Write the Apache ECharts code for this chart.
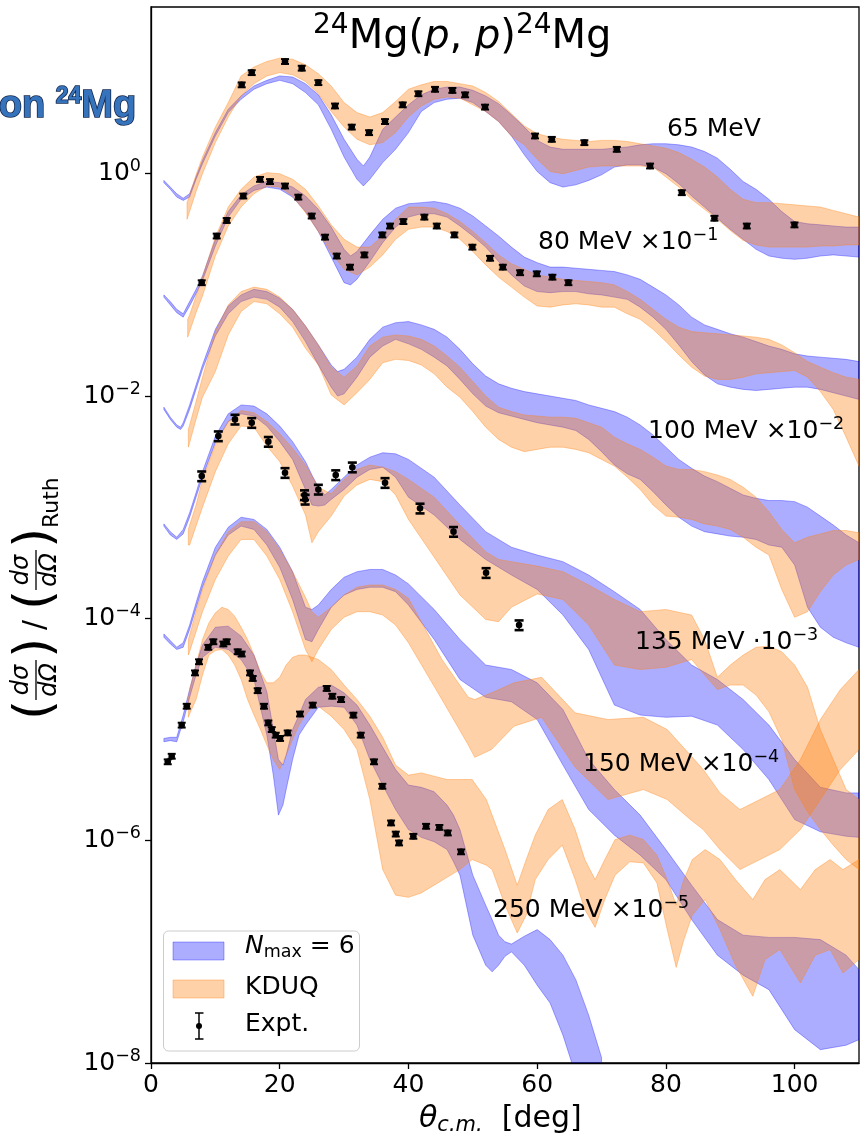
<!DOCTYPE html>
<html>
<head>
<meta charset="utf-8">
<script src="https://cdn.jsdelivr.net/npm/echarts@6/dist/echarts.min.js"></script>
<style>
  html, body { margin: 0; padding: 0; background: #fff; }
  #chart { width: 860px; height: 1142px; }
</style>
</head>
<body>
<div id="chart"></div>
<script>
// Elastic 24Mg(p,p) angular distributions, ratio to Rutherford.
// Every band row is [theta_cm (deg), log10 lower, log10 upper];
// energies above 65 MeV are already multiplied by their offset factor.

const xTicks = [0, 20, 40, 60, 80, 100];
const yTicks = [-8, -6, -4, -2, 0];

const nmax65 = [[2,-0.08,-0.06],[3,-0.14,-0.12],[4,-0.21,-0.18],[5,-0.24,-0.22],[6,-0.21,-0.18],[7,-0.05,-0.03],[8,0.09,0.12],[10,0.34,0.37],[12,0.55,0.58],[14,0.67,0.70],[16,0.76,0.79],[18,0.81,0.84],[20,0.84,0.88],[22,0.81,0.87],[24,0.73,0.81],[26,0.62,0.71],[28,0.40,0.53],[30,0.15,0.31],[32,-0.05,0.13],[33,-0.11,0.07],[34,-0.05,0.15],[36,0.10,0.40],[38,0.22,0.51],[40,0.37,0.62],[42,0.56,0.71],[44,0.64,0.76],[46,0.67,0.78],[48,0.68,0.78],[50,0.64,0.75],[52,0.56,0.70],[54,0.47,0.63],[56,0.34,0.53],[58,0.17,0.42],[60,0.02,0.30],[62,-0.08,0.24],[64,-0.12,0.22],[66,-0.10,0.22],[68,-0.06,0.22],[70,-0.01,0.22],[72,0.06,0.23],[74,0.08,0.24],[76,0.08,0.26],[78,0.06,0.27],[80,0.00,0.27],[82,-0.09,0.26],[84,-0.20,0.24],[86,-0.30,0.20],[88,-0.40,0.14],[90,-0.50,0.04],[92,-0.59,-0.07],[94,-0.68,-0.14],[96,-0.74,-0.23],[98,-0.76,-0.34],[100,-0.77,-0.43],[102,-0.76,-0.45],[104,-0.74,-0.46],[106,-0.73,-0.47],[108,-0.74,-0.48],[110,-0.75,-0.48]];
const kduq65 = [[5.6,-0.41,-0.26],[6,-0.34,-0.19],[7,-0.16,-0.01],[8,0.00,0.15],[10,0.28,0.42],[12,0.51,0.64],[14,0.70,0.88],[16,0.81,0.96],[18,0.88,1.01],[20,0.91,1.04],[22,0.89,1.03],[24,0.83,0.98],[26,0.72,0.90],[28,0.56,0.79],[30,0.42,0.64],[32,0.31,0.55],[34,0.26,0.51],[36,0.28,0.55],[38,0.37,0.65],[40,0.51,0.76],[42,0.61,0.80],[44,0.67,0.83],[46,0.69,0.83],[48,0.68,0.81],[50,0.62,0.79],[52,0.56,0.73],[54,0.47,0.65],[56,0.34,0.54],[58,0.26,0.43],[60,0.13,0.36],[62,0.02,0.33],[64,0.00,0.31],[66,0.03,0.30],[68,0.06,0.29],[70,0.07,0.30],[72,0.07,0.30],[74,0.07,0.29],[76,0.07,0.27],[78,0.06,0.25],[80,-0.03,0.23],[82,-0.12,0.19],[84,-0.23,0.13],[86,-0.32,0.06],[88,-0.41,-0.03],[90,-0.51,-0.14],[92,-0.60,-0.23],[94,-0.64,-0.26],[96,-0.66,-0.26],[98,-0.66,-0.27],[100,-0.66,-0.28],[102,-0.66,-0.29],[104,-0.65,-0.30],[106,-0.65,-0.33],[108,-0.64,-0.36],[110,-0.64,-0.39]];

const nmax80 = [[2,-1.11,-1.09],[3,-1.18,-1.15],[4,-1.25,-1.22],[5,-1.29,-1.26],[6,-1.19,-1.15],[7,-1.08,-1.04],[8,-0.96,-0.92],[10,-0.65,-0.59],[12,-0.39,-0.34],[14,-0.23,-0.19],[16,-0.15,-0.11],[18,-0.12,-0.07],[20,-0.14,-0.08],[22,-0.21,-0.12],[24,-0.34,-0.20],[26,-0.52,-0.32],[28,-0.75,-0.48],[30,-0.98,-0.68],[31,-1.00,-0.74],[32,-0.95,-0.70],[34,-0.79,-0.55],[36,-0.62,-0.41],[38,-0.48,-0.31],[40,-0.39,-0.27],[42,-0.36,-0.26],[44,-0.36,-0.25],[46,-0.39,-0.27],[48,-0.47,-0.31],[50,-0.56,-0.38],[52,-0.66,-0.47],[54,-0.79,-0.56],[56,-0.91,-0.66],[58,-1.01,-0.75],[60,-1.06,-0.80],[62,-1.07,-0.84],[64,-1.06,-0.84],[66,-1.06,-0.85],[68,-1.08,-0.86],[70,-1.09,-0.87],[72,-1.11,-0.88],[74,-1.13,-0.91],[76,-1.20,-0.95],[78,-1.29,-1.02],[80,-1.40,-1.09],[82,-1.54,-1.18],[84,-1.69,-1.29],[86,-1.81,-1.36],[88,-1.89,-1.40],[90,-1.92,-1.44],[92,-1.94,-1.47],[94,-1.95,-1.51],[96,-1.94,-1.55],[98,-1.93,-1.58],[100,-1.92,-1.62],[102,-1.92,-1.64],[104,-1.94,-1.65],[106,-1.97,-1.66],[108,-2.00,-1.67],[110,-2.03,-1.69]];
const kduq80 = [[5.7,-1.47,-1.31],[6,-1.42,-1.27],[7,-1.25,-1.10],[8,-1.10,-0.93],[10,-0.74,-0.57],[12,-0.47,-0.30],[14,-0.30,-0.14],[16,-0.18,-0.03],[18,-0.11,0.01],[20,-0.12,0.00],[22,-0.20,-0.05],[24,-0.35,-0.14],[26,-0.52,-0.29],[28,-0.71,-0.46],[30,-0.86,-0.59],[32,-0.91,-0.66],[34,-0.84,-0.66],[36,-0.73,-0.56],[38,-0.59,-0.41],[40,-0.50,-0.30],[42,-0.48,-0.30],[44,-0.48,-0.31],[46,-0.52,-0.36],[48,-0.59,-0.43],[50,-0.70,-0.52],[52,-0.82,-0.62],[54,-0.93,-0.73],[56,-1.02,-0.81],[58,-1.11,-0.86],[60,-1.19,-0.91],[62,-1.20,-0.93],[64,-1.18,-0.95],[66,-1.17,-0.96],[68,-1.18,-0.97],[70,-1.20,-0.98],[72,-1.20,-1.00],[74,-1.26,-1.06],[76,-1.31,-1.13],[78,-1.40,-1.22],[80,-1.51,-1.31],[82,-1.63,-1.38],[84,-1.74,-1.42],[86,-1.82,-1.43],[88,-1.85,-1.44],[90,-1.85,-1.45],[92,-1.83,-1.46],[94,-1.80,-1.47],[96,-1.79,-1.49],[98,-1.78,-1.54],[100,-1.77,-1.61],[102,-1.83,-1.69],[104,-1.96,-1.74],[106,-2.12,-1.79],[108,-2.37,-1.83],[110,-2.63,-1.85]];

const nmax100 = [[2,-2.12,-2.10],[3,-2.21,-2.19],[4,-2.28,-2.26],[4.6,-2.30,-2.28],[5,-2.27,-2.24],[6,-2.12,-2.08],[7,-1.94,-1.90],[8,-1.76,-1.72],[10,-1.46,-1.40],[12,-1.26,-1.19],[14,-1.15,-1.09],[16,-1.11,-1.04],[18,-1.13,-1.06],[20,-1.20,-1.12],[22,-1.33,-1.22],[24,-1.51,-1.37],[26,-1.72,-1.54],[28,-1.92,-1.72],[29,-2.00,-1.78],[30,-1.98,-1.76],[32,-1.83,-1.65],[34,-1.65,-1.49],[36,-1.55,-1.38],[38,-1.49,-1.34],[40,-1.53,-1.33],[42,-1.58,-1.36],[44,-1.65,-1.40],[46,-1.73,-1.47],[48,-1.85,-1.58],[50,-1.98,-1.71],[52,-2.09,-1.82],[54,-2.15,-1.89],[56,-2.18,-1.93],[58,-2.21,-1.96],[60,-2.24,-1.98],[62,-2.26,-2.00],[64,-2.28,-2.02],[66,-2.31,-2.04],[68,-2.39,-2.08],[70,-2.50,-2.11],[72,-2.62,-2.14],[74,-2.70,-2.19],[76,-2.75,-2.26],[78,-2.86,-2.35],[80,-2.98,-2.46],[82,-3.09,-2.57],[84,-3.17,-2.65],[86,-3.22,-2.72],[88,-3.24,-2.77],[90,-3.26,-2.83],[92,-3.27,-2.89],[94,-3.29,-2.92],[96,-3.34,-2.94],[98,-3.36,-2.94],[100,-3.52,-2.95],[102,-3.90,-3.00],[104,-4.08,-3.08],[106,-4.17,-3.16],[108,-4.22,-3.25],[110,-4.26,-3.32]];
const kduq100 = [[5.8,-2.46,-2.30],[6,-2.42,-2.26],[7,-2.21,-2.05],[8,-2.01,-1.83],[10,-1.78,-1.42],[12,-1.45,-1.18],[14,-1.24,-1.06],[16,-1.15,-1.02],[18,-1.17,-1.04],[20,-1.26,-1.11],[22,-1.38,-1.22],[24,-1.57,-1.37],[26,-1.72,-1.54],[28,-1.99,-1.74],[30,-2.08,-1.83],[32,-1.97,-1.73],[34,-1.85,-1.55],[36,-1.70,-1.47],[38,-1.67,-1.45],[40,-1.68,-1.46],[42,-1.72,-1.49],[44,-1.80,-1.55],[46,-1.92,-1.64],[48,-2.01,-1.74],[50,-2.14,-1.87],[52,-2.28,-2.00],[54,-2.39,-2.10],[56,-2.46,-2.14],[58,-2.50,-2.17],[60,-2.48,-2.18],[62,-2.46,-2.19],[64,-2.46,-2.19],[66,-2.48,-2.20],[68,-2.51,-2.24],[70,-2.57,-2.28],[72,-2.63,-2.37],[74,-2.73,-2.43],[76,-2.84,-2.48],[78,-2.98,-2.55],[80,-3.08,-2.63],[82,-3.09,-2.66],[84,-3.11,-2.66],[86,-3.15,-2.68],[88,-3.17,-2.71],[90,-3.20,-2.75],[92,-3.27,-2.82],[94,-3.36,-2.91],[96,-3.43,-3.04],[98,-3.74,-3.20],[100,-3.99,-3.32],[102,-3.94,-3.27],[104,-3.76,-3.24],[106,-3.61,-3.21],[108,-3.52,-3.21],[110,-3.47,-3.23]];

const nmax135 = [[2,-3.17,-3.15],[3,-3.25,-3.22],[4,-3.29,-3.27],[5,-3.24,-3.20],[6,-3.09,-3.05],[7,-2.91,-2.87],[8,-2.73,-2.68],[10,-2.42,-2.36],[12,-2.23,-2.16],[14,-2.16,-2.08],[16,-2.18,-2.09],[18,-2.27,-2.16],[20,-2.41,-2.27],[22,-2.57,-2.41],[24,-2.84,-2.59],[25,-2.98,-2.71],[26,-2.99,-2.82],[27,-2.98,-2.89],[28,-2.93,-2.84],[30,-2.84,-2.73],[32,-2.73,-2.62],[34,-2.66,-2.55],[36,-2.64,-2.51],[38,-2.73,-2.52],[40,-2.91,-2.57],[44,-3.07,-2.73],[48,-3.29,-2.98],[52,-3.47,-3.22],[56,-3.61,-3.36],[60,-3.74,-3.43],[64,-3.97,-3.49],[68,-4.28,-3.61],[72,-4.78,-3.76],[76,-4.87,-3.92],[80,-4.89,-4.19],[84,-4.88,-4.42],[88,-4.96,-4.55],[92,-5.18,-4.73],[96,-5.45,-4.96],[100,-5.81,-5.27],[104,-5.92,-5.52],[108,-5.96,-5.57],[110,-5.97,-5.57]];
const kduq135 = [[5.8,-3.34,-3.20],[6,-3.34,-3.16],[7,-3.17,-2.98],[8,-3.00,-2.75],[10,-2.68,-2.44],[12,-2.43,-2.23],[14,-2.27,-2.13],[16,-2.28,-2.15],[18,-2.45,-2.23],[20,-2.59,-2.34],[22,-2.81,-2.47],[24,-3.07,-2.62],[25,-3.32,-2.72],[26,-3.22,-2.82],[28,-3.08,-2.88],[30,-2.90,-2.75],[32,-2.80,-2.66],[34,-2.75,-2.62],[36,-2.77,-2.64],[38,-2.89,-2.68],[40,-3.11,-2.75],[44,-3.45,-2.91],[48,-3.79,-3.16],[52,-4.01,-3.40],[54,-4.03,-3.47],[56,-3.90,-3.49],[60,-3.78,-3.53],[64,-3.83,-3.58],[68,-4.06,-3.70],[72,-4.42,-3.83],[76,-4.46,-3.94],[80,-4.44,-3.92],[84,-4.37,-3.97],[86,-4.51,-4.19],[88,-4.64,-4.53],[90,-4.60,-4.42],[92,-4.60,-4.33],[94,-4.69,-4.26],[96,-4.84,-4.25],[98,-5.09,-4.30],[100,-5.54,-4.42],[102,-5.74,-4.62],[104,-5.90,-5.00],[106,-6.04,-5.27],[108,-6.17,-5.54],[110,-6.26,-5.63]];

const nmax150 = [[2,-4.17,-4.14],[3,-4.23,-4.20],[4,-4.28,-4.26],[5,-4.26,-4.22],[6,-4.10,-4.06],[7,-3.91,-3.86],[8,-3.72,-3.67],[10,-3.43,-3.36],[12,-3.25,-3.18],[14,-3.17,-3.09],[16,-3.20,-3.11],[18,-3.34,-3.20],[20,-3.54,-3.36],[22,-3.83,-3.58],[24,-4.19,-3.90],[25,-4.21,-3.92],[26,-4.10,-3.88],[28,-3.90,-3.74],[30,-3.79,-3.63],[32,-3.74,-3.58],[34,-3.72,-3.56],[36,-3.72,-3.56],[38,-3.76,-3.61],[40,-3.88,-3.69],[44,-4.19,-3.92],[48,-4.55,-4.19],[52,-4.71,-4.42],[56,-4.75,-4.46],[60,-4.91,-4.58],[64,-5.32,-4.82],[68,-5.72,-5.27],[72,-5.95,-5.54],[76,-6.13,-5.77],[80,-6.35,-6.08],[84,-6.71,-6.40],[88,-7.03,-6.71],[92,-7.21,-6.85],[96,-7.34,-6.87],[100,-7.70,-6.87],[104,-7.88,-6.89],[108,-7.84,-7.03],[110,-7.79,-7.16]];
const kduq150 = [[5.8,-4.33,-4.19],[6,-4.30,-4.15],[7,-4.12,-3.94],[8,-3.94,-3.74],[10,-3.65,-3.43],[12,-3.44,-3.22],[14,-3.29,-3.13],[16,-3.29,-3.13],[18,-3.44,-3.22],[20,-3.65,-3.38],[22,-3.94,-3.58],[24,-4.28,-3.81],[25,-4.39,-3.94],[26,-4.28,-3.99],[28,-4.10,-3.90],[30,-3.99,-3.79],[32,-3.94,-3.72],[34,-3.94,-3.70],[36,-3.97,-3.70],[38,-4.06,-3.74],[40,-4.22,-3.82],[45.2,-4.73,-4.37],[49.3,-5.14,-4.71],[50.3,-5.25,-4.73],[52.9,-5.18,-4.67],[56.4,-4.97,-4.58],[60.7,-4.89,-4.53],[65.9,-5.34,-4.85],[71,-5.63,-4.91],[76.5,-5.54,-4.89],[80.2,-5.63,-5.00],[83.8,-5.81,-5.23],[85.8,-5.90,-5.36],[88.4,-6.08,-5.57],[91.5,-6.26,-5.72],[94.6,-6.17,-5.63],[97.7,-6.08,-5.54],[100.9,-5.90,-5.27],[104,-5.63,-4.91],[107.1,-5.36,-4.64],[110,-5.18,-4.46]];

const nmax250 = [[2,-5.11,-5.08],[3,-5.10,-5.07],[4,-5.11,-5.07],[5,-4.93,-4.87],[6,-4.71,-4.64],[7,-4.51,-4.42],[8,-4.35,-4.24],[10,-4.26,-4.08],[12,-4.28,-4.07],[14,-4.37,-4.16],[16,-4.55,-4.33],[18,-5.05,-4.66],[19,-5.41,-5.00],[19.8,-5.77,-5.27],[20.5,-5.68,-5.32],[21,-5.54,-5.23],[22,-5.27,-5.00],[23,-5.05,-4.87],[24,-4.96,-4.73],[26,-4.80,-4.62],[28,-4.79,-4.60],[30,-4.80,-4.67],[32,-4.96,-4.78],[34,-5.27,-4.96],[36,-5.50,-5.16],[38,-5.72,-5.36],[40,-5.90,-5.50],[42,-5.97,-5.52],[44,-6.01,-5.56],[46,-6.08,-5.68],[47,-6.19,-5.77],[48,-6.31,-5.90],[50,-6.85,-6.31],[52,-7.12,-6.58],[53,-7.18,-6.71],[54,-7.12,-6.85],[55,-7.04,-6.91],[56,-7.00,-6.93],[58,-7.12,-6.86],[60,-7.30,-6.80],[62,-7.46,-6.89],[64,-7.75,-7.03],[66,-8.11,-7.25],[68,-8.42,-7.57],[70,-8.78,-7.95]];
const kduq250 = [[5.8,-4.89,-4.73],[6,-4.86,-4.64],[7,-4.73,-4.42],[8,-4.51,-4.19],[9,-4.33,-4.04],[10,-4.29,-3.95],[11,-4.28,-3.90],[12,-4.33,-3.92],[13,-4.42,-3.98],[14,-4.55,-4.08],[15,-4.73,-4.19],[16,-4.87,-4.33],[17,-5.00,-4.48],[18,-5.14,-4.58],[19,-5.27,-4.58],[20,-5.36,-4.53],[21,-5.23,-4.42],[22,-5.09,-4.35],[23,-4.96,-4.33],[24,-4.87,-4.33],[25,-4.80,-4.35],[26,-4.79,-4.37],[28,-4.88,-4.46],[30,-5.00,-4.60],[32,-5.18,-4.73],[34,-5.63,-4.88],[36,-6.26,-5.07],[38,-6.49,-5.32],[40,-6.51,-5.41],[42,-6.47,-5.39],[44,-6.40,-5.42],[46,-6.33,-5.45],[48,-6.26,-5.45],[49.9,-6.17,-5.45],[52.1,-6.22,-5.63],[53,-6.26,-5.77],[55,-6.58,-6.08],[56.9,-6.83,-6.40],[58.3,-6.67,-6.17],[59.7,-6.35,-5.95],[61.7,-6.17,-5.72],[63.9,-6.04,-5.63],[65.9,-6.35,-5.90],[67.4,-6.62,-6.17],[69,-6.78,-6.35],[70.5,-6.53,-6.17],[72.1,-6.31,-5.99],[74.4,-6.19,-5.95],[76.5,-6.20,-5.99],[78.6,-6.38,-6.13],[80.2,-6.80,-6.35],[81.6,-7.14,-6.58],[82.8,-6.89,-6.35],[84.1,-6.67,-6.17],[86.1,-6.53,-6.08],[88.4,-6.80,-6.17],[90.8,-7.12,-6.35],[93.5,-7.40,-6.53],[95.4,-7.07,-6.35],[97.7,-6.98,-6.26],[100.9,-7.28,-6.44],[103.2,-7.03,-6.26],[105.5,-6.98,-6.17],[107.5,-7.19,-6.26],[110,-7.07,-6.17]];

// measured points: [theta_cm, log10 ratio]; relative uncertainties alongside
const expt65 = [[14.09,0.80],[15.65,0.91],[20.82,1.01],[23.42,0.95],[26.0,0.82],[28.59,0.61],[31.19,0.42],[33.88,0.37],[36.36,0.47],[39.11,0.62],[41.54,0.72],[44.13,0.76],[46.82,0.75],[48.8,0.71],[51.9,0.60],[59.67,0.34],[62.27,0.31],[67.33,0.28],[72.37,0.22],[77.54,0.07],[82.47,-0.17],[87.54,-0.40],[92.57,-0.47],[99.97,-0.46]];
const err65 = [0.05,0.05,0.05,0.05,0.05,0.05,0.05,0.05,0.05,0.05,0.05,0.05,0.05,0.05,0.05,0.05,0.05,0.05,0.05,0.05,0.05,0.05,0.05,0.05];
const expt80 = [[7.88,-0.98],[10.21,-0.56],[11.76,-0.42],[14.34,-0.20],[16.94,-0.05],[18.49,-0.07],[20.82,-0.11],[22.89,-0.21],[24.97,-0.38],[27.04,-0.57],[28.86,-0.74],[30.92,-0.84],[33.15,-0.73],[35.94,-0.55],[37.14,-0.47],[39.21,-0.43],[42.47,-0.39],[44.4,-0.47],[47.13,-0.55],[49.93,-0.66],[52.68,-0.76],[54.66,-0.84],[57.34,-0.89],[59.94,-0.90],[62.36,-0.93],[64.85,-0.98]];
const err80 = [0.05,0.05,0.05,0.05,0.05,0.05,0.05,0.05,0.05,0.05,0.05,0.05,0.05,0.05,0.05,0.05,0.05,0.05,0.05,0.05,0.05,0.05,0.05,0.05,0.05,0.05];
const expt135 = [[7.88,-2.72],[10.46,-2.36],[13.05,-2.21],[15.65,-2.24],[18.23,-2.41],[20.82,-2.69],[23.85,-2.89],[23.95,-2.93],[26.0,-2.84],[28.7,-2.71],[31.28,-2.64],[36.36,-2.78],[41.8,-3.01],[47.0,-3.22],[52.06,-3.59],[57.19,-4.06]];
const err135 = [0.10,0.10,0.10,0.10,0.10,0.10,0.10,0.10,0.10,0.10,0.10,0.10,0.10,0.10,0.10,0.10];
const expt250 = [[2.60,-5.29],[3.22,-5.24],[4.77,-4.96],[5.55,-4.79],[6.84,-4.49],[7.46,-4.39],[8.90,-4.26],[9.68,-4.21],[11.24,-4.23],[11.76,-4.21],[13.47,-4.30],[14.09,-4.32],[15.38,-4.49],[15.80,-4.54],[16.58,-4.65],[17.56,-4.79],[18.23,-4.94],[18.76,-5.00],[19.38,-5.05],[20.05,-5.08],[21.24,-5.03],[23.15,-4.86],[25.13,-4.78],[27.30,-4.63],[28.17,-4.70],[29.53,-4.73],[31.44,-4.87],[32.59,-5.05],[34.65,-5.29],[35.94,-5.51],[37.30,-5.84],[38.03,-5.94],[38.54,-6.02],[40.76,-5.96],[42.74,-5.87],[44.80,-5.88],[46.11,-5.93],[48.17,-6.10]];
const err250 = [0.05,0.05,0.05,0.05,0.05,0.05,0.05,0.05,0.05,0.05,0.05,0.05,0.05,0.05,0.05,0.05,0.05,0.05,0.05,0.05,0.05,0.05,0.05,0.05,0.05,0.05,0.05,0.05,0.05,0.05,0.05,0.05,0.05,0.05,0.05,0.05,0.05,0.05];

const FONT = 'DejaVu Sans';
const BLUE = 'rgba(0,0,255,0.32)';
const ORANGE = 'rgba(255,127,14,0.36)';

function band(rows, fill) {
  return {
    type: 'custom',
    coordinateSystem: 'cartesian2d',
    clip: true,
    silent: true,
    encode: { x: 0, y: [1, 2] },
    data: rows,
    renderItem(params, api) {
      if (params.dataIndex !== 0) return null;
      const top = rows.map(r => api.coord([r[0], r[2]]));
      const bottom = rows.map(r => api.coord([r[0], r[1]])).reverse();
      return {
        type: 'polygon',
        shape: { points: top.concat(bottom) },
        style: { fill: fill, stroke: fill, lineWidth: 1 }
      };
    }
  };
}

function expt(points, errs, capHalf, capWidth) {
  return {
    type: 'custom',
    coordinateSystem: 'cartesian2d',
    clip: true,
    silent: true,
    z: 10,
    encode: { x: 0, y: [1, 2, 3] },
    data: points.map((p, i) => [p[0], p[1], p[1] + Math.log10(1 + errs[i]), p[1] + Math.log10(1 - errs[i])]),
    renderItem(params, api) {
      const c = api.coord([api.value(0), api.value(1)]);
      const hi = api.coord([api.value(0), api.value(2)]);
      const lo = api.coord([api.value(0), api.value(3)]);
      const ln = { stroke: '#000', lineWidth: capWidth };
      return {
        type: 'group',
        children: [
          { type: 'line', shape: { x1: c[0], y1: hi[1], x2: c[0], y2: lo[1] }, style: { stroke: '#000', lineWidth: 1.5 } },
          { type: 'line', shape: { x1: c[0] - capHalf, y1: hi[1], x2: c[0] + capHalf, y2: hi[1] }, style: ln },
          { type: 'line', shape: { x1: c[0] - capHalf, y1: lo[1], x2: c[0] + capHalf, y2: lo[1] }, style: ln },
          { type: 'circle', shape: { cx: c[0], cy: c[1], r: 3.3 }, style: { fill: '#000' } }
        ]
      };
    }
  };
}

const series = [
  band(nmax65, BLUE), band(kduq65, ORANGE),
  band(nmax80, BLUE), band(kduq80, ORANGE),
  band(nmax100, BLUE), band(kduq100, ORANGE),
  band(nmax135, BLUE), band(kduq135, ORANGE),
  band(nmax150, BLUE), band(kduq150, ORANGE),
  band(nmax250, BLUE), band(kduq250, ORANGE),
  expt(expt65, err65, 4, 2), expt(expt80, err80, 4, 2),
  expt(expt135, err135, 4.5, 2.6), expt(expt250, err250, 4, 2)
];

const supRich = {
  b: { fontFamily: FONT, fontSize: 25, color: '#000', lineHeight: 32 },
  s: { fontFamily: FONT, fontSize: 17.5, color: '#000', lineHeight: 16, verticalAlign: 'top' }
};

function note(x, y, rich) {
  return { type: 'text', left: x, top: y, z: 50,
    style: { text: rich, rich: supRich, fill: '#000', font: '25px "' + FONT + '"' } };
}

// blue heading lettering with a dark rim and drop shadow
const headStyle = { fontFamily: 'Liberation Sans', fontWeight: 'bold', fill: '#3673bd',
  stroke: '#13264a', lineWidth: 1.6, textShadowColor: '#13264a', textShadowOffsetX: 2, textShadowOffsetY: 2, textShadowBlur: 0 };

const chart = echarts.init(document.getElementById('chart'));
chart.setOption({
  animation: false,
  backgroundColor: '#fff',
  grid: { left: 151, right: 1, top: 7, bottom: 79, show: true, borderColor: '#000', borderWidth: 1.3, backgroundColor: 'transparent' },
  xAxis: {
    type: 'value', min: 0, max: 110, interval: 20,
    axisLine: { show: true, onZero: false, lineStyle: { color: '#000', width: 1.3 } },
    axisTick: { show: true, length: 6, lineStyle: { color: '#000', width: 1.3 }, customValues: xTicks },
    axisLabel: { color: '#000', fontSize: 25, fontFamily: FONT, margin: 10, customValues: xTicks },
    splitLine: { show: false }
  },
  yAxis: {
    type: 'value', min: -8, max: 1.5, interval: 2,
    axisLine: { show: true, onZero: false, lineStyle: { color: '#000', width: 1.3 } },
    axisTick: { show: true, length: 6, lineStyle: { color: '#000', width: 1.3 }, customValues: yTicks },
    axisLabel: {
      customValues: yTicks, margin: 10,
      formatter: v => '{b|10}{s|' + (v < 0 ? '\u2212' + Math.abs(v) : String(v)) + '}',
      rich: supRich
    },
    splitLine: { show: false }
  },
  series: series,
  graphic: [
    // title
    { type: 'text', left: 313, top: 12, z: 50,
      style: { text: '{s|24}{n|Mg(}{i|p}{n|, }{i|p}{n|)}{s|24}{n|Mg}',
        rich: {
          n: { fontFamily: FONT, fontSize: 40, lineHeight: 52, fill: '#000' },
          i: { fontFamily: FONT, fontSize: 40, fontStyle: 'italic', lineHeight: 52, fill: '#000' },
          s: { fontFamily: FONT, fontSize: 28, lineHeight: 30, verticalAlign: 'top', fill: '#000' }
        } } },
    // energy labels
    note(667, 117, '{b|65 MeV}'),
    note(538, 226, '{b|80 MeV \u00d710}{s|\u22121}'),
    note(648, 415, '{b|100 MeV \u00d710}{s|\u22122}'),
    note(635, 626, '{b|135 MeV \u00b710}{s|\u22123}'),
    note(583, 748, '{b|150 MeV \u00d710}{s|\u22124}'),
    note(493, 894, '{b|250 MeV \u00d710}{s|\u22125}'),
    // x axis title
    { type: 'text', left: 419, top: 1104, z: 50,
      style: { text: '{t|\u03b8}{c|c.m.}{n|  [deg]}',
        rich: {
          t: { fontFamily: FONT, fontSize: 30, fontStyle: 'italic', lineHeight: 34, fill: '#000' },
          c: { fontFamily: FONT, fontSize: 21, fontStyle: 'italic', lineHeight: 26, verticalAlign: 'bottom', fill: '#000' },
          n: { fontFamily: FONT, fontSize: 30, lineHeight: 34, fill: '#000' }
        } } },
    // y axis title, built from stacked fractions and rotated
    { type: 'group', x: 36, y: 530, rotation: Math.PI / 2, z: 50,
      children: [
        { type: 'text', x: -190, y: 0, style: { text: '(', font: '52px "' + FONT + '"', fill: '#000', textVerticalAlign: 'middle' } },
        { type: 'text', x: -150, y: -14, style: { text: 'd\u03c3', font: 'italic 24px "' + FONT + '"', fill: '#000', textAlign: 'center', textVerticalAlign: 'middle' } },
        { type: 'line', shape: { x1: -170, y1: 0, x2: -130, y2: 0 }, style: { stroke: '#000', lineWidth: 1.3 } },
        { type: 'text', x: -150, y: 14, style: { text: 'd\u03a9', font: 'italic 24px "' + FONT + '"', fill: '#000', textAlign: 'center', textVerticalAlign: 'middle' } },
        { type: 'text', x: -128, y: 0, style: { text: ')', font: '52px "' + FONT + '"', fill: '#000', textVerticalAlign: 'middle' } },
        { type: 'text', x: -100, y: 0, style: { text: '/', font: '30px "' + FONT + '"', fill: '#000', textVerticalAlign: 'middle' } },
        { type: 'text', x: -80, y: 0, style: { text: '(', font: '52px "' + FONT + '"', fill: '#000', textVerticalAlign: 'middle' } },
        { type: 'text', x: -40, y: -14, style: { text: 'd\u03c3', font: 'italic 24px "' + FONT + '"', fill: '#000', textAlign: 'center', textVerticalAlign: 'middle' } },
        { type: 'line', shape: { x1: -60, y1: 0, x2: -20, y2: 0 }, style: { stroke: '#000', lineWidth: 1.3 } },
        { type: 'text', x: -40, y: 14, style: { text: 'd\u03a9', font: 'italic 24px "' + FONT + '"', fill: '#000', textAlign: 'center', textVerticalAlign: 'middle' } },
        { type: 'text', x: -18, y: 0, style: { text: ')', font: '52px "' + FONT + '"', fill: '#000', textVerticalAlign: 'middle' } },
        { type: 'text', x: 2, y: 16, style: { text: 'Ruth', font: '22px "' + FONT + '"', fill: '#000', textVerticalAlign: 'middle' } }
      ] },
    // slide heading fragment
    { type: 'text', right: 723, top: 84, z: 50,
      style: { text: '{a|on }{s|24}{a|Mg}',
        rich: {
          a: Object.assign({ fontSize: 38, lineHeight: 44 }, headStyle),
          s: Object.assign({ fontSize: 23, lineHeight: 26, verticalAlign: 'top' }, headStyle)
        } } },
    // legend
    { type: 'rect', shape: { x: 163.5, y: 931, width: 196, height: 120, r: 5 }, z: 40,
      style: { fill: 'rgba(255,255,255,0.8)', stroke: '#cccccc', lineWidth: 1 } },
    { type: 'rect', shape: { x: 173, y: 942, width: 51, height: 18 }, z: 41, style: { fill: BLUE, stroke: BLUE, lineWidth: 1 } },
    { type: 'rect', shape: { x: 173, y: 980, width: 51, height: 18 }, z: 41, style: { fill: ORANGE, stroke: ORANGE, lineWidth: 1 } },
    { type: 'line', shape: { x1: 199, y1: 1013, x2: 199, y2: 1039 }, z: 41, style: { stroke: '#000', lineWidth: 1.5 } },
    { type: 'line', shape: { x1: 195, y1: 1013, x2: 203.5, y2: 1013 }, z: 41, style: { stroke: '#000', lineWidth: 1.5 } },
    { type: 'line', shape: { x1: 195, y1: 1039, x2: 203.5, y2: 1039 }, z: 41, style: { stroke: '#000', lineWidth: 1.5 } },
    { type: 'circle', shape: { cx: 199, cy: 1026, r: 3 }, z: 41, style: { fill: '#000' } },
    { type: 'text', left: 245, top: 934, z: 41,
      style: { text: '{i|N}{m|max}{n| = 6}',
        rich: {
          i: { fontFamily: FONT, fontSize: 25, fontStyle: 'italic', lineHeight: 30, fill: '#000' },
          m: { fontFamily: FONT, fontSize: 17.5, lineHeight: 20, verticalAlign: 'bottom', fill: '#000' },
          n: { fontFamily: FONT, fontSize: 25, lineHeight: 30, fill: '#000' }
        } } },
    { type: 'text', left: 245, top: 975, z: 41, style: { text: 'KDUQ', font: '25px "' + FONT + '"', fill: '#000' } },
    { type: 'text', left: 245, top: 1012, z: 41, style: { text: 'Expt.', font: '25px "' + FONT + '"', fill: '#000' } }
  ]
});
</script>
</body>
</html>
